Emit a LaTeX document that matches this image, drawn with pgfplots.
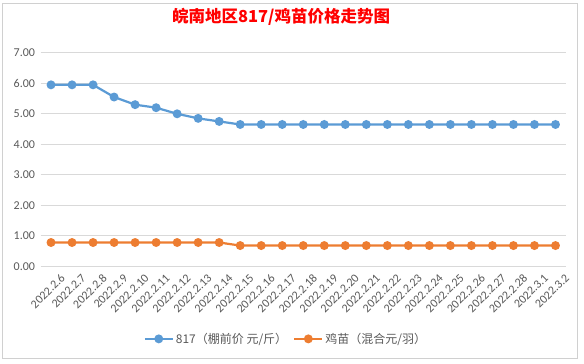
\documentclass[border=0pt]{standalone}
\usepackage{fontspec}
\setmainfont{Carlito}
\newfontfamily\cjk{Noto Sans CJK SC}
\usepackage{pgfplots}
\pgfplotsset{compat=1.18}
\definecolor{cblue}{HTML}{5B9BD5}
\definecolor{corange}{HTML}{ED7D31}
\definecolor{cgrid}{HTML}{D9D9D9}
\definecolor{ctext}{HTML}{595959}
\definecolor{cframe}{HTML}{D0D0D0}
\begin{document}
\begin{tikzpicture}[x=1pt,y=1pt]
\useasboundingbox (0,0) rectangle (584,364);
\fill[white] (0,0) rectangle (584,364);
\draw[cframe] (2.5,6) rectangle (577.5,360.5);
\node[font=\cjk\bfseries\fontsize{16.5}{18}\selectfont, text=red] at (281,347) {皖南地区817/鸡苗价格走势图};
\begin{axis}[
  at={(40.5pt,97.7pt)}, anchor=south west,
  scale only axis, width=525.5pt, height=213.5pt,
  xmin=-0.5, xmax=24.5, ymin=0, ymax=7,
  ytick={0,1,...,7},
  /pgf/number format/assume math mode=true,
  yticklabel style={/pgf/number format/fixed, /pgf/number format/fixed zerofill, /pgf/number format/precision=2, font=\fontsize{12}{14}\selectfont, text=ctext, xshift=-2pt},
  ymajorgrids, grid style={cgrid, line width=0.8pt},
  axis line style={draw=none}, tick style={draw=none},
  xtick={0,...,24},
  xticklabels={2022.2.6,2022.2.7,2022.2.8,2022.2.9,2022.2.10,2022.2.11,2022.2.12,2022.2.13,2022.2.14,2022.2.15,2022.2.16,2022.2.17,2022.2.18,2022.2.19,2022.2.20,2022.2.21,2022.2.22,2022.2.23,2022.2.24,2022.2.25,2022.2.26,2022.2.27,2022.2.28,2022.3.1,2022.3.2},
  xticklabel style={rotate=45, anchor=north east, font=\fontsize{12}{14}\selectfont, text=ctext, inner sep=0pt, xshift=1.5pt, yshift=-11pt},
  legend columns=2,
  legend style={at={(0.467,-0.34)}, anchor=center, draw=none, font=\cjk\fontsize{12}{14}\selectfont, text=ctext, /tikz/every even column/.append style={column sep=4pt}},
  legend image code/.code={\draw[#1] (0pt,0pt) -- (28pt,0pt); \draw[#1, only marks] plot coordinates {(14pt,0pt)};},
]
\addplot[cblue, line width=2.2pt, mark=*, mark size=3.3pt] coordinates {
(0,5.95)(1,5.95)(2,5.95)(3,5.55)(4,5.3)(5,5.2)(6,5.0)(7,4.85)(8,4.75)(9,4.65)(10,4.65)(11,4.65)(12,4.65)(13,4.65)(14,4.65)(15,4.65)(16,4.65)(17,4.65)(18,4.65)(19,4.65)(20,4.65)(21,4.65)(22,4.65)(23,4.65)(24,4.65)};
\addlegendentry{817（棚前价 元/斤）}
\addplot[corange, line width=2.2pt, mark=*, mark size=3.3pt] coordinates {
(0,0.78)(1,0.78)(2,0.78)(3,0.78)(4,0.78)(5,0.78)(6,0.78)(7,0.78)(8,0.78)(9,0.68)(10,0.68)(11,0.68)(12,0.68)(13,0.68)(14,0.68)(15,0.68)(16,0.68)(17,0.68)(18,0.68)(19,0.68)(20,0.68)(21,0.68)(22,0.68)(23,0.68)(24,0.68)};
\addlegendentry{鸡苗（混合元/羽）}
\end{axis}
\end{tikzpicture}
\end{document}
